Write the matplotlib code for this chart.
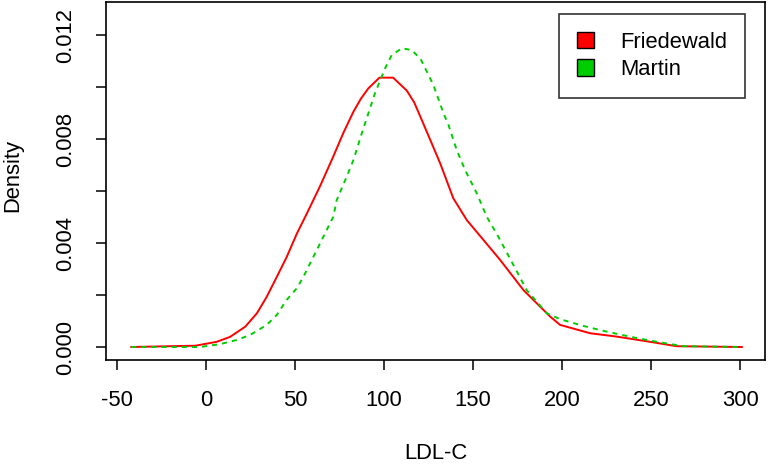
import matplotlib.pyplot as plt
from matplotlib.patches import Patch
import numpy as np

plt.rcParams['font.family'] = ['Liberation Sans', 'DejaVu Sans']

# Friedewald density
fw_x = [-42, -6, 6, 13.5, 22, 28.5, 34, 39.7, 45.3, 51, 56.6, 64, 71.5, 77.1, 82.8,
        87, 91.2, 97.4, 105.1, 112.8, 117, 121.2, 131.5, 138.9, 146.5, 155.8, 165.2,
        178.3, 193.3, 198.9, 215.7, 230.7, 249.4, 264.4, 301]
fw_y = [0, 0.00005, 0.0002, 0.00039, 0.00078, 0.00129, 0.00192, 0.00269, 0.00346,
        0.00436, 0.00513, 0.00618, 0.00733, 0.00823, 0.00905, 0.00955, 0.00995,
        0.01036, 0.01036, 0.00986, 0.0094, 0.00873, 0.00707, 0.00572, 0.00488,
        0.00412, 0.00335, 0.00219, 0.00117, 0.00085, 0.00053, 0.0004, 0.0002,
        0.00003, 0]

# Martin density
mt_x = [-42, -3.4, 7.9, 17.2, 24.7, 34.1, 39.7, 45.3, 51, 54.7, 60.3, 65.9, 71.5,
        73.4, 79, 82.8, 87.5, 91.2, 94.9, 100.6, 104.3, 110, 115.6, 120.6, 123.6,
        127.7, 133.4, 136.2, 140.8, 145.5, 152.1, 157.7, 164.2, 171.7, 180.1,
        191.4, 198.9, 212, 225.1, 240.1, 253.2, 268.1, 301]
mt_y = [0, 0, 0.00011, 0.00027, 0.00046, 0.00085, 0.00123, 0.00181, 0.00226,
        0.0027, 0.00347, 0.00424, 0.00501, 0.00565, 0.00655, 0.00719, 0.00822,
        0.00899, 0.00976, 0.01072, 0.01123, 0.01149, 0.01142, 0.01107, 0.01065,
        0.01008, 0.00899, 0.00854, 0.00758, 0.00681, 0.00591, 0.00501, 0.00424,
        0.00328, 0.00219, 0.0013, 0.00107, 0.00081, 0.00059, 0.00037, 0.0002,
        0.00003, 0]

series = ["Friedewald", "Martin"]
colors = ["#FF0000", "#00CD00"]
x_ticks = [-50, 0, 50, 100, 150, 200, 250, 300]
y_ticks = [0, 0.002, 0.004, 0.006, 0.008, 0.010, 0.012]
y_labels = ["0.000", "", "0.004", "", "0.008", "", "0.012"]

fig = plt.figure(figsize=(7.68, 4.65), dpi=100)
ax = fig.add_axes([106 / 768, 1 - 360 / 465, (765 - 106) / 768, (360 - 2) / 465])

ax.plot(fw_x, fw_y, color=colors[0], lw=1.4)
ax.plot(mt_x, mt_y, color=colors[1], lw=1.4, dashes=(2.6, 2.6))

ax.set_xlim(-56.2, 314)
ax.set_ylim(-0.0005, 0.01327)
ax.set_xticks(x_ticks)
ax.set_xticklabels([str(v) for v in x_ticks])
ax.set_yticks(y_ticks)
ax.set_yticklabels(y_labels, rotation=90, va='center')

for s in ax.spines.values():
    s.set_linewidth(1.2)
ax.tick_params(axis='both', length=7.5, width=1.1, labelsize=15.8)
ax.tick_params(axis='x', pad=14)
ax.tick_params(axis='y', pad=14)

fig.text(13 / 768, 1 - 176 / 465, "Density", rotation=90, ha='center', va='center',
         fontsize=15.8)
fig.text(436 / 768, 1 - 453 / 465, "LDL-C", ha='center', va='center', fontsize=15.8)

handles = [Patch(facecolor=c, edgecolor='black', lw=1) for c in colors]
leg = ax.legend(handles, series, loc='upper right', fontsize=15.8, frameon=True,
                fancybox=False, edgecolor='black', handlelength=0.8, handleheight=0.8,
                borderpad=0.8, labelspacing=0.3, handletextpad=1.2,
                bbox_to_anchor=(745 / 768, 1 - 14 / 465), bbox_transform=fig.transFigure,
                borderaxespad=0)
leg.get_frame().set_linewidth(1.2)

fig.savefig("out.png", dpi=100)
